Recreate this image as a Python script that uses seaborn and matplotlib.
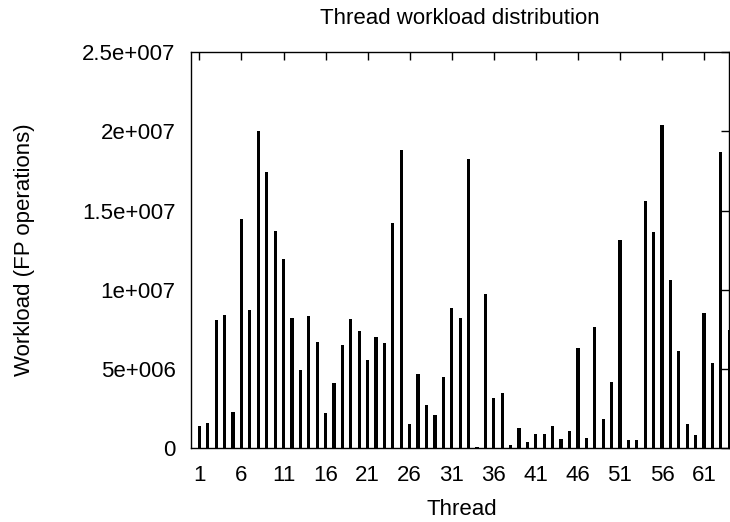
import matplotlib
matplotlib.use("Agg")
import matplotlib.pyplot as plt
import seaborn as sns
import pandas as pd

threads = list(range(1, 65))
workload = [
    1.43e6, 1.57e6, 8.12e6, 8.42e6, 2.29e6, 1.448e7, 8.75e6, 2.00e7, 1.740e7, 1.369e7,
    1.194e7, 8.21e6, 4.91e6, 8.33e6, 6.72e6, 2.20e6, 4.14e6, 6.53e6, 8.17e6, 7.39e6,
    5.56e6, 7.01e6, 6.67e6, 1.423e7, 1.881e7, 1.51e6, 4.66e6, 2.75e6, 2.08e6, 4.47e6,
    8.86e6, 8.23e6, 1.826e7, 0.08e6, 9.74e6, 3.15e6, 3.46e6, 0.23e6, 1.30e6, 0.38e6,
    0.90e6, 0.92e6, 1.43e6, 0.61e6, 1.07e6, 6.32e6, 0.67e6, 7.68e6, 1.85e6, 4.18e6,
    1.316e7, 0.52e6, 0.55e6, 1.562e7, 1.367e7, 2.042e7, 1.064e7, 6.13e6, 1.55e6, 0.82e6,
    8.56e6, 5.35e6, 1.870e7, 7.47e6,
]
xtick_values = [1, 6, 11, 16, 21, 26, 31, 36, 41, 46, 51, 56, 61]
ytick_values = [0, 5e6, 1e7, 1.5e7, 2e7, 2.5e7]
ytick_labels = ["0", "5e+006", "1e+007", "1.5e+007", "2e+007", "2.5e+007"]

sns.set_theme(style="white")
plt.rcParams['font.family'] = ['Liberation Sans', 'DejaVu Sans']

df = pd.DataFrame({"Thread": threads, "Workload": workload})

W, H = 730, 522
fig = plt.figure(figsize=(W / 100, H / 100), dpi=100)
ax = fig.add_axes([191 / W, 1 - 448.3 / H, (729.3 - 191) / W, (448.3 - 52) / H])

sns.barplot(data=df, x="Thread", y="Workload", native_scale=True, width=0.38,
            color="black", linewidth=0, saturation=1, ax=ax)

ax.set_xlim(0, 64)
ax.set_ylim(0, 2.5e7)
ax.set_xticks(xtick_values)
ax.set_xticklabels([str(v) for v in xtick_values])
ax.set_yticks(ytick_values)
ax.set_yticklabels(ytick_labels)

fs = 16
ax.tick_params(axis="both", direction="in", length=6, width=1, color="black",
               top=True, right=True, labelsize=fs, labelcolor="black")
ax.tick_params(axis="x", pad=12)
ax.tick_params(axis="y", pad=11)

for s in ax.spines.values():
    s.set_color("black")
    s.set_linewidth(1.0)
    s.set_visible(True)

ax.set_xlabel("Thread", fontsize=fs, color="black")
ax.xaxis.set_label_coords((462 - 191) / 538, -(515 - 448.3) / 396.3)
ax.xaxis.label.set_va("baseline")

ax.set_ylabel("Workload (FP operations)", fontsize=fs, color="black")
ax.yaxis.set_label_coords((25 - 191) / 538, 0.5)
ax.yaxis.label.set_va("center")

fig.text(460 / W, 1 - 24 / H, "Thread workload distribution", ha="center",
         va="baseline", fontsize=fs, color="black")

fig.savefig("out.png", dpi=100, facecolor="white")
